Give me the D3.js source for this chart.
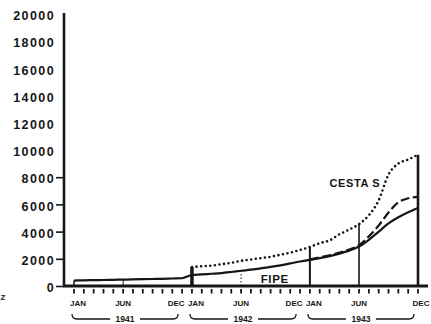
<!DOCTYPE html>
<html><head><meta charset="utf-8">
<script src="https://cdn.jsdelivr.net/npm/d3@7/dist/d3.min.js"></script>
<style>
body{margin:0;background:#fff}
text{font-family:"Liberation Sans",Arial,sans-serif;font-weight:bold;fill:#161616}
</style></head><body>
<svg id="c" width="431" height="324"></svg>
<script>
// ---- data ----
const yTicks = [0,2000,4000,6000,8000,10000,12000,14000,16000,18000,20000];
const monthLabels = ["JAN","JUN","DEC","JAN","JUN","DEC","JAN","JUN","DEC"];
const labelMonths = [0,5,11,12,17,23,24,29,35];
const years = ["1941","1942","1943"];
// FIPE (solid) Jan 1941 .. Dec 1943, monthly
const fipe = [400,420,430,440,455,470,485,500,515,530,550,570,
              810,850,900,950,1030,1120,1200,1300,1400,1520,1660,1800,
              1920,2050,2200,2380,2600,2900,3400,4000,4600,5050,5420,5740];
// CESTA S (dotted) Jan 1942 .. Dec 1943
const cestaStart = 12;
const cesta = [1400,1450,1500,1600,1700,1850,1950,2050,2150,2300,2450,2650,
               2870,3150,3350,3800,4150,4550,5200,6300,8200,9000,9300,9650];
// dashed series Jan 1943 .. Dec 1943
const dashStart = 24;
const dashed = [1960,2100,2260,2450,2680,3000,3650,4450,5400,6150,6450,6550];
// vertical drop lines (month, series reached)
const dropMonths = [0,5,12,17,24,29,35];
const dropSeries = ["fipe","fipe","cesta","fipe","cesta","cesta","cesta"];

// ---- styles ----
const dropWidths = [1.5,1,3.5,1,2,1.6,2.6];
const dropDash = [null,null,null,"1.5,2",null,null,null];
const ink = "#161616";

const svg = d3.select("#c");
const x = d3.scaleLinear().domain([0,35]).range([74,418]);
const y = d3.scaleLinear().domain([0,20000]).range([286,14]);

const fipePts = fipe.map((v,i)=>[i,v]);
const cestaPts = cesta.map((v,i)=>[i+cestaStart,v]);
const dashPts = dashed.map((v,i)=>[i+dashStart,v]);
const series = {fipe:fipePts, cesta:cestaPts};
const valAt = (name,m)=>{const p=series[name].find(d=>d[0]===m);return p?p[1]:0;};

// y axis
const yAxis = d3.axisLeft(y).tickValues(yTicks).tickSize(8).tickFormat(d=>d===0?"0":String(d));
const ga = svg.append("g").attr("transform","translate(64,0)").call(yAxis);
ga.select(".domain").remove();
ga.selectAll(".tick line").attr("stroke",ink).attr("stroke-width",1.6)
  .attr("opacity",d=>d<=8000?1:0);
ga.selectAll(".tick text").attr("x",-9).attr("dy","0.45em")
  .style("font-size","12.5px").style("letter-spacing","1.4px").style("fill",ink);
svg.append("line").attr("x1",64).attr("x2",64).attr("y1",y(20000)-1).attr("y2",y(0)+1)
  .attr("stroke",ink).attr("stroke-width",2.6);

// x axis
svg.append("line").attr("x1",63).attr("x2",428).attr("y1",y(0)).attr("y2",y(0))
  .attr("stroke",ink).attr("stroke-width",3);
svg.append("g").selectAll("line").data(d3.range(0,36)).join("line")
  .attr("x1",d=>x(d)).attr("x2",d=>x(d)).attr("y1",y(0)+3).attr("y2",y(0)+7.5)
  .attr("stroke",ink).attr("stroke-width",1.8);

// month labels
const lblOff = (l,i)=> l==="JAN"?4:(l==="DEC"&&i<monthLabels.length-1?-6:(l==="DEC"?3:0));
svg.append("g").selectAll("text").data(monthLabels).join("text")
  .attr("x",(d,i)=>x(labelMonths[i])+lblOff(d,i)).attr("y",306)
  .attr("text-anchor","middle").style("font-size","8px").text(d=>d);

// year brackets
years.forEach((yr,i)=>{
  const x0 = x(12*i)-2, x1 = x(12*i+11)-4, tc=(x0+x1)/2, yy=319;
  const g = svg.append("g");
  g.append("path").attr("d",`M${x0},${yy-5}Q${x0},${yy} ${x0+5},${yy}L${tc-15},${yy}M${tc+15},${yy}L${x1-5},${yy}Q${x1},${yy} ${x1},${yy-5}`)
    .attr("fill","none").attr("stroke",ink).attr("stroke-width",1.3);
  g.append("text").attr("x",tc).attr("y",yy+3).attr("text-anchor","middle")
    .style("font-size","8.5px").text(yr);
});

// drop lines
svg.append("g").selectAll("line").data(dropMonths).join("line")
  .attr("x1",d=>x(d)).attr("x2",d=>x(d)).attr("y1",y(0))
  .attr("y2",(d,i)=>y(valAt(dropSeries[i],d)))
  .attr("stroke",ink).attr("stroke-width",(d,i)=>dropWidths[i])
  .attr("stroke-dasharray",(d,i)=>dropDash[i]);

// lines
const line = d3.line().x(d=>x(d[0])).y(d=>y(d[1])).curve(d3.curveMonotoneX);
svg.append("path").datum(fipePts).attr("d",line).attr("fill","none")
  .attr("stroke",ink).attr("stroke-width",2.2);
svg.append("path").datum(dashPts).attr("d",line).attr("fill","none")
  .attr("stroke",ink).attr("stroke-width",2.2).attr("stroke-dasharray","9,3.5");
svg.append("path").datum(cestaPts).attr("d",line).attr("fill","none")
  .attr("stroke",ink).attr("stroke-width",2.6).attr("stroke-linecap","round")
  .attr("stroke-dasharray","0,4.6");

// series labels
svg.append("text").attr("x",x(26)).attr("y",y(7300)).style("font-size","11px")
  .style("letter-spacing","0.6px").text("CESTA S");
svg.append("text").attr("x",x(19)).attr("y",y(200)).style("font-size","11.5px")
  .style("letter-spacing","0.6px").text("FIPE");
svg.append("text").attr("x",0.5).attr("y",300).style("font-size","8px").text("Z");
</script>
</body></html>
